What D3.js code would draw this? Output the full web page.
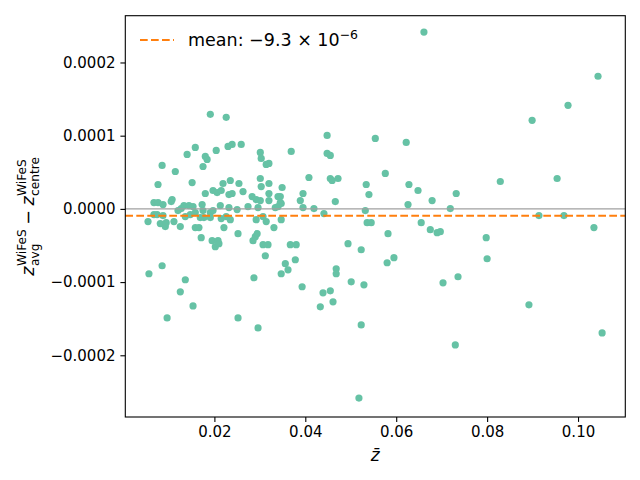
<!DOCTYPE html>
<html>
<head>
<meta charset="utf-8">
<script src="https://cdn.jsdelivr.net/npm/d3@7"></script>
<style>
  body { margin: 0; background: white; }
  text { font-family: "DejaVu Sans", sans-serif; }
</style>
</head>
<body>
<div class="display"></div>
<script>
// mean redshift of each object (x) and WiFeS avg - centre difference in units of 1e-4 (y)
const zBar = [
    0.0661, 0.1044, 0.0978, 0.0899, 0.0829, 0.0954, 0.0732, 0.0719, 0.0914, 0.0969,
    0.1035, 0.0697, 0.0798, 0.0800, 0.0736, 0.0703, 0.0892, 0.1053, 0.0730,
    0.0679, 0.0626, 0.0648, 0.0628, 0.0622, 0.0576, 0.0554, 0.0534, 0.0540, 0.0532,
    0.0536, 0.0545, 0.0582, 0.0655, 0.0675, 0.0690,
    0.0369, 0.0448, 0.0448, 0.0455, 0.0455, 0.0459, 0.0472, 0.0408, 0.0349, 0.0345,
    0.0347, 0.0395, 0.0389, 0.0395, 0.0419, 0.0466, 0.0441, 0.0347,
    0.0367, 0.0380, 0.0494, 0.0523, 0.0356, 0.0378, 0.0362, 0.0347, 0.0468, 0.0468,
    0.0580, 0.0595, 0.0501, 0.0529, 0.0393, 0.0439, 0.0455, 0.0461, 0.0433, 0.0523, 0.0518,
    0.0191, 0.0226, 0.0230, 0.0239, 0.0259, 0.0158, 0.0204, 0.0140, 0.0301, 0.0303,
    0.0180, 0.0184, 0.0175, 0.0085, 0.0114, 0.0314, 0.0320, 0.0301, 0.0320, 0.0303,
    0.0151, 0.0076, 0.0235, 0.0219, 0.0254, 0.0197, 0.0206, 0.0215, 0.0180, 0.0232,
    0.0239, 0.0263, 0.0283, 0.0292, 0.0301, 0.0320, 0.0320, 0.0340, 0.0345, 0.0107,
    0.0105, 0.0067, 0.0076, 0.0087, 0.0133, 0.0144, 0.0153, 0.0173, 0.0213, 0.0232,
    0.0250, 0.0274, 0.0296, 0.0334, 0.0340, 0.0127, 0.0120, 0.0175, 0.0191, 0.0197,
    0.0067, 0.0074, 0.0087, 0.0136, 0.0147, 0.0158, 0.0169, 0.0177, 0.0191, 0.0215,
    0.0226, 0.0307, 0.0235, 0.0054, 0.0081, 0.0094, 0.0092, 0.0111, 0.0125, 0.0158,
    0.0166, 0.0221, 0.0252, 0.0292, 0.0314, 0.0331, 0.0171, 0.0195, 0.0208, 0.0202,
    0.0210, 0.0285, 0.0290, 0.0294, 0.0307, 0.0318, 0.0312, 0.0056, 0.0085, 0.0136,
    0.0125, 0.0153, 0.0096, 0.0252, 0.0296, 0.0287
];
const dzE4 = [
    2.415, 1.812, 1.415, 1.210, 0.374, 0.415, 0.210, 0.004, -0.092, -0.092,
    -0.256, -0.311, -0.393, -0.681, -0.927, -1.010, -1.311, -1.695, -1.859,
    0.114, 0.059, 0.251, 0.333, 0.908, 0.484, 0.963, 0.333, 0.196, -0.023,
    -0.188, -0.188, -0.338, -0.188, -0.284, -0.325,
    0.785, 1.004, 0.758, 0.730, 0.415, 0.388, 0.415, 0.429, 0.292, 0.168,
    0.073, 0.210, 0.114, 0.018, 0.004, 0.100, -0.064, -0.147,
    -0.489, -0.489, -0.475, -0.558, -0.749, -0.695, -0.832, -0.886, -0.818, -0.886,
    -0.736, -0.667, -0.996, -1.037, -1.064, -1.147, -1.119, -1.270, -1.338, -1.585, -2.585,
    1.292, 1.251, 0.853, 0.881, 0.881, 0.840, 0.799, 0.744, 0.771, 0.689,
    0.716, 0.675, 0.579, 0.593, 0.511, 0.607, 0.621, 0.415, 0.347, 0.305,
    0.360, 0.333, 0.388, 0.347, 0.347, 0.251, 0.223, 0.251, 0.210, 0.196,
    0.210, 0.237, 0.168, 0.127, 0.114, 0.210, 0.114, 0.168, 0.086, 0.127,
    0.100, 0.086, 0.086, 0.059, 0.045, 0.045, 0.032, 0.059, 0.045, 0.018,
    -0.010, 0.032, 0.018, 0.018, 0.032, 0.004, -0.023, -0.023, -0.051, -0.023,
    -0.078, -0.078, -0.092, -0.105, -0.078, -0.051, -0.119, -0.119, -0.119, -0.133,
    -0.105, -0.105, -0.147, -0.174, -0.201, -0.188, -0.242, -0.174, -0.242, -0.256,
    -0.256, -0.256, -0.338, -0.147, -0.174, -0.256, -0.393, -0.434, -0.434, -0.516,
    -0.475, -0.434, -0.379, -0.338, -0.489, -0.489, -0.640, -0.886, -0.777, -0.968,
    -1.133, -1.325, -1.489, -1.489, -1.626, -0.941
];
const meanDz = -9.3e-6;
const xTicks = [0.02, 0.04, 0.06, 0.08, 0.10];
const yTicks = [-0.0002, -0.0001, 0, 0.0001, 0.0002];

const points = zBar.map((z, i) => ({ z: z, dz: dzE4[i] * 1e-4 }));

const width = 640;
const height = 480;
const mLeft = 125.3, mRight = 625.3, mTop = 15.7, mBottom = 417;

const svg = d3.select('.display')
    .append('svg')
    .attr('width', width)
    .attr('height', height)
    .style('background-color', 'white');

const xScale = d3.scaleLinear()
    .domain([0.0004, 0.1104])
    .range([mLeft, mRight]);

const yScale = d3.scaleLinear()
    .domain([-0.0002843, 0.0002639])
    .range([mBottom, mTop]);

svg.append('g')
    .selectAll('circle')
    .data(points)
    .enter()
    .append('circle')
    .attr('cx', d => xScale(d.z))
    .attr('cy', d => yScale(d.dz))
    .attr('r', 3.6)
    .attr('fill', '#66c2a5');

// zero line
svg.append('line')
    .attr('x1', mLeft).attr('x2', mRight)
    .attr('y1', yScale(0)).attr('y2', yScale(0))
    .attr('stroke', '#a0a0a0')
    .attr('stroke-width', 1.1);

// mean line
svg.append('line')
    .attr('x1', mLeft).attr('x2', mRight)
    .attr('y1', yScale(meanDz)).attr('y2', yScale(meanDz))
    .attr('stroke', '#ff7f0e')
    .attr('stroke-width', 2.1)
    .attr('stroke-dasharray', '7.7,3.3');

const xAxis = d3.axisBottom(xScale)
    .tickValues(xTicks)
    .tickSize(4.9)
    .tickPadding(4.9)
    .tickFormat(d3.format('.2f'));

const yAxis = d3.axisLeft(yScale)
    .tickValues(yTicks)
    .tickSize(4.9)
    .tickPadding(4.9)
    .tickFormat(d => d3.format('.4f')(d).replace('-', '\u2212'));

svg.append('g')
    .attr('transform', `translate(0, ${mBottom})`)
    .call(xAxis)
    .call(g => g.select('.domain').remove())
    .call(g => g.selectAll('text').attr('font-size', 15).attr('fill', 'black').attr('font-family', 'DejaVu Sans'))
    .call(g => g.selectAll('line').attr('stroke', 'black').attr('stroke-width', 1.1));

svg.append('g')
    .attr('transform', `translate(${mLeft}, 0)`)
    .call(yAxis)
    .call(g => g.select('.domain').remove())
    .call(g => g.selectAll('text').attr('font-size', 15).attr('fill', 'black').attr('font-family', 'DejaVu Sans'))
    .call(g => g.selectAll('line').attr('stroke', 'black').attr('stroke-width', 1.1));

// frame
svg.append('rect')
    .attr('x', mLeft).attr('y', mTop)
    .attr('width', mRight - mLeft).attr('height', mBottom - mTop)
    .attr('fill', 'none')
    .attr('stroke', 'black')
    .attr('stroke-width', 1.1);

// x label
svg.append('text')
    .attr('x', (mLeft + mRight) / 2)
    .attr('y', 461)
    .attr('text-anchor', 'middle')
    .attr('font-size', 17)
    .attr('font-style', 'italic')
    .text('z\u0304');

// y label built from pieces so sub and superscripts stack
const ylab = svg.append('g');
const parts = ylab.append('g');
let cursor = 0;
function piece(txt, size, dy, italic) {
    const t = parts.append('text')
        .attr('x', cursor)
        .attr('y', dy)
        .attr('font-size', size)
        .attr('font-style', italic ? 'italic' : 'normal')
        .text(txt);
    return t.node().getComputedTextLength();
}
function zTerm(sub) {
    cursor += piece('z', 17.5, 0, true) + 0.5;
    const w1 = piece('WiFeS', 12.2, -8.5, false);
    const w2 = piece(sub, 12.2, 4.5, false);
    cursor += Math.max(w1, w2);
}
zTerm('avg');
cursor += 4.5;
cursor += piece('\u2212', 17.5, 0, false) + 4.5;
zTerm('centre');
parts.attr('transform', `translate(${-cursor / 2}, 0)`);
ylab.attr('transform', `translate(34, ${(mTop + mBottom) / 2}) rotate(-90)`);

// legend
const legend = svg.append('g').attr('id', 'legend');
legend.append('line')
    .attr('x1', 140).attr('x2', 174)
    .attr('y1', 40).attr('y2', 40)
    .attr('stroke', '#ff7f0e')
    .attr('stroke-width', 2.1)
    .attr('stroke-dasharray', '7.7,3.3');
const lt = legend.append('text')
    .attr('x', 188)
    .attr('y', 46)
    .attr('font-size', 17.5);
lt.append('tspan').text('mean: \u22129.3 \u00d7 10');
lt.append('tspan').attr('dy', -7.5).attr('font-size', 12.5).text('\u22126');
</script>
</body>
</html>
